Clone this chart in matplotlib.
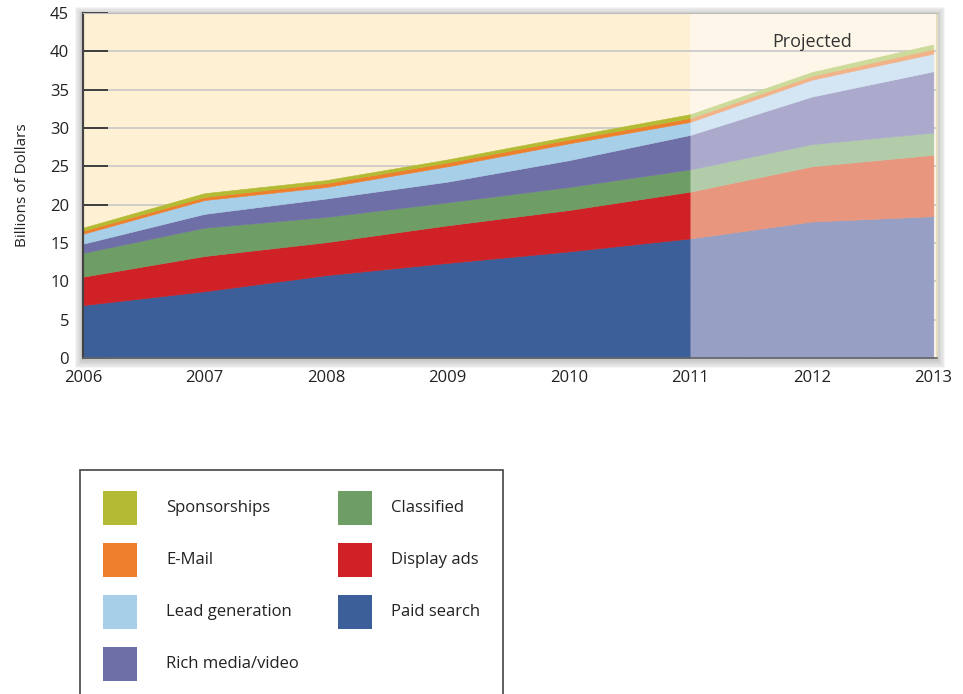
import numpy as np
import matplotlib.pyplot as plt
from matplotlib.patches import Rectangle

plt.rcParams['font.family'] = ['Open Sans', 'DejaVu Sans']

# data (billions of dollars)
years = [2006, 2007, 2008, 2009, 2010, 2011, 2012, 2013]
paid_search = [6.9, 8.7, 10.8, 12.4, 13.9, 15.6, 17.8, 18.5]
display_ads = [3.7, 4.6, 4.3, 4.9, 5.4, 6.1, 7.2, 8.0]
classified = [3.1, 3.7, 3.3, 3.0, 3.0, 2.9, 2.9, 2.9]
rich_media = [1.2, 1.8, 2.4, 2.7, 3.5, 4.5, 6.2, 8.0]
lead_generation = [1.3, 1.8, 1.5, 2.0, 2.2, 1.7, 2.2, 2.3]
email = [0.4, 0.4, 0.5, 0.5, 0.5, 0.5, 0.5, 0.6]
sponsorships = [0.4, 0.5, 0.4, 0.4, 0.4, 0.5, 0.5, 0.6]
first_projected = 2011

# bottom to top
series = [paid_search, display_ads, classified, rich_media,
          lead_generation, email, sponsorships]
labels = ['Paid search', 'Display ads', 'Classified', 'Rich media/video',
          'Lead generation', 'E-Mail', 'Sponsorships']
colors = ['#3C5F99', '#D02127', '#6E9E66', '#6F6FA8',
          '#A8CFE8', '#EE7F2D', '#B2BB33']
proj_colors = ['#97A0C4', '#E8967D', '#B2CCAA', '#ABAACD',
               '#D4E6F3', '#F3B389', '#CCDA9A']

W, H = 963, 694
fig = plt.figure(figsize=(W/100, H/100), dpi=100)
ax_box = [83/W, 1-358/H, (937-83)/W, 345/H]

# soft drop shadow behind the plot area
for i in range(1, 7):
    d = i * 1.4
    fig.patches.append(Rectangle((ax_box[0] - d/W, ax_box[1] - (d+2)/H),
                                 ax_box[2] + 2*d/W, ax_box[3] + (2*d)/H,
                                 transform=fig.transFigure, facecolor='#555555',
                                 edgecolor='none', alpha=0.06, zorder=-5))

ax = fig.add_axes(ax_box)
ax.set_facecolor('#FEF0D2')
ax.axvspan(first_projected, 2014, color='#FEF7E9', zorder=0.1, lw=0)

i_split = years.index(first_projected)
ax.stackplot(years[:i_split+1], *[s[:i_split+1] for s in series],
             colors=colors, edgecolor='face', linewidth=0.4, zorder=2)
ax.stackplot(years[i_split:], *[s[i_split:] for s in series],
             colors=proj_colors, edgecolor='face', linewidth=0.4, zorder=2)

ax.text(2012, 41.2, 'Projected', ha='center', va='center', fontsize=13, color='#333333')

ax.set_xlim(2006, 2013.03)
ax.set_ylim(0, 45)
ax.set_xticks(years)
ax.set_xticks(np.arange(2006.5, 2013, 1), minor=True)
ax.set_yticks(range(0, 46, 5))
ax.set_axisbelow(True)
ax.yaxis.grid(True, color='#C8C8C8', lw=1.2)
ax.tick_params(axis='y', direction='in', length=18, width=1.3, color='#333333',
               labelsize=12, pad=10, labelcolor='#222222')
ax.tick_params(axis='x', which='major', length=0, labelsize=12, pad=9, labelcolor='#222222')
ax.tick_params(axis='x', which='minor', direction='in', length=3, color='#777777')
ax.set_ylabel('Billions of Dollars', fontsize=11, labelpad=14, color='#222222')

ax.spines['left'].set_color('#444444')
ax.spines['left'].set_linewidth(1.6)
ax.spines['bottom'].set_color('#666666')
ax.spines['bottom'].set_linewidth(1.2)
ax.spines['top'].set_color('#BBBBBB')
ax.spines['top'].set_linewidth(0.8)
ax.spines['right'].set_color('#E6DDBE')
ax.spines['right'].set_linewidth(1.5)

# legend box drawn by hand (runs off the bottom of the figure)
fig.patches.append(Rectangle((80/W, -0.05), (503-80)/W, 0.05 + (H-470)/H,
                             transform=fig.transFigure, facecolor='white',
                             edgecolor='#444444', linewidth=1.2))
leg_labels = labels[::-1]
leg_colors = colors[::-1]
col_x = [(103, 166), (338, 391)]
rows_per_col = 4
for k, (lab, col) in enumerate(zip(leg_labels, leg_colors)):
    c, r = divmod(k, rows_per_col)
    hx, tx = col_x[c]
    yc = 508 + 52 * r
    fig.patches.append(Rectangle((hx/W, 1-(yc+17)/H), 34/W, 34/H,
                                 transform=fig.transFigure, facecolor=col,
                                 edgecolor='none'))
    fig.text(tx/W, 1-yc/H, lab, ha='left', va='center', fontsize=12, color='#222222')

fig.savefig('out.png', dpi=100)
